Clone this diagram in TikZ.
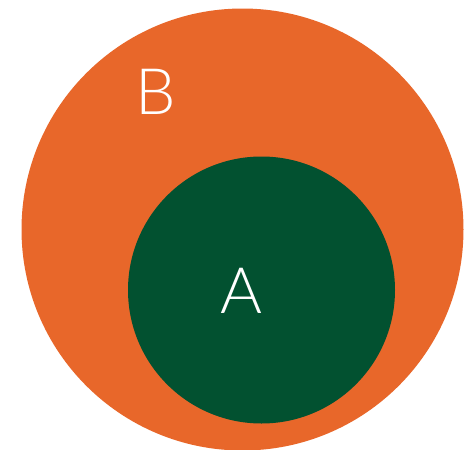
\documentclass[tikz,border=0pt]{standalone}
\usepackage{fontspec}
\setmainfont{Lato Light}
\definecolor{setorange}{HTML}{E8672A}
\definecolor{setgreen}{HTML}{025130}

\begin{document}
\begin{tikzpicture}[x=1pt, y=-1pt,
    setlabel/.style={text=white, font=\fontsize{64}{64}\selectfont, inner sep=0pt}]
            \useasboundingbox (0,0) rectangle (469,450);
            % Draw sets
            \node[circle, fill=setorange, minimum size=442pt, inner sep=0pt] (B) at (242.5,229.5) {};
            \node[circle, fill=setgreen, minimum size=267pt, inner sep=0pt] (A) at (261.5,290) {};

            % Draw labels
            \node[setlabel] (labelB) at (155.5,91.5) {B};
            \node[setlabel] (labelA) at (241,291) {A};
        \end{tikzpicture}
\end{document}
